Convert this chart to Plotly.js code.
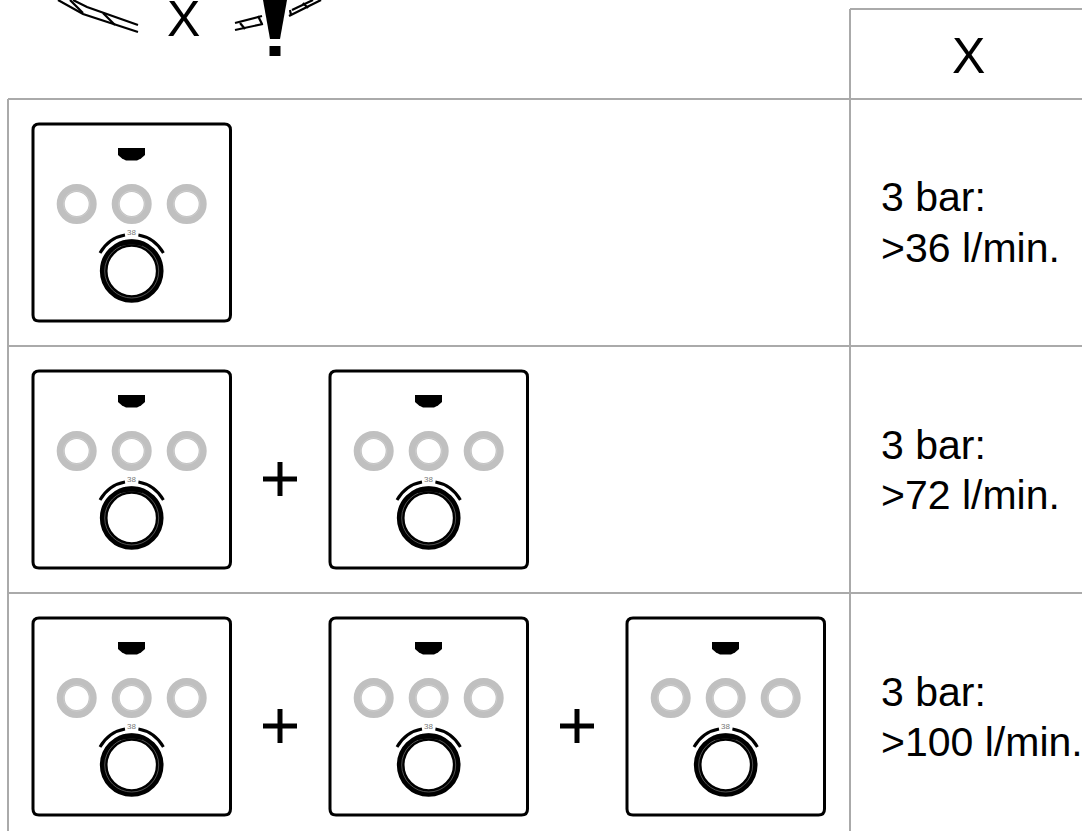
<!DOCTYPE html>
<html>
<head>
<meta charset="utf-8">
<script src="https://cdn.plot.ly/plotly-3.0.1.min.js"></script>
<style>html,body{margin:0;padding:0;background:#fff;overflow:hidden}</style>
</head>
<body>
<div id="chart" style="width:1082px;height:831px"></div>
<script>
// Table content
const headerLabel = "X";
const pressureLabel = "3 bar:";
const flowLabels = [">36 l/min.", ">72 l/min.", ">100 l/min."];
const panelCounts = [1, 2, 3];
const dialLabel = "38";

// Table layout
const rowTops = [124, 371, 618];
const colLefts = [33, 330, 627];
const pressureY = [197, 444.5, 691.5];
const flowY = [247.5, 494.5, 741.5];
const gridX = [[8,1082],[8,1082],[8,1082],[850,1082],[8,8],[850,850]];
const gridY = [[99,99],[346,346],[593,593],[9,9],[99,831],[9,831]];

// Clipped warning graphic at the top edge
const strokeX = [[58,83,138],[73,87,138],[70,83],[103,115],[235,262],[235,263],[240,245],[258,262],[289,321],[292,313],[290,291],[303,308]];
const strokeY = [[0,14,32],[0,7,25],[0,13],[13,25],[23,16],[30,24],[23,29],[16,24],[16,0],[10,0],[10,15],[3,8]];

const GRID = "#aaaaaa", INK = "#000000", RING = "#c0c0c0";
const shapes = [], annotations = [], traces = [];

gridX.forEach((xs, i) => traces.push({
  x: xs, y: gridY[i], mode: "lines", type: "scatter", hoverinfo: "skip",
  line: {color: GRID, width: 2}
}));
strokeX.forEach((xs, i) => traces.push({
  x: xs, y: strokeY[i], mode: "lines", type: "scatter", hoverinfo: "skip",
  line: {color: INK, width: 2.2}
}));

// Exclamation mark
shapes.push({type:"path", path:"M263,0 L287,0 L280,39 L270,39 Z", fillcolor:INK, line:{width:0}});
shapes.push({type:"rect", x0:269.5, x1:280.5, y0:46, y1:56, fillcolor:INK, line:{width:0}});

function circle(cx, cy, r, color, w) {
  shapes.push({type:"circle", x0:cx-r, x1:cx+r, y0:cy-r, y1:cy+r,
    fillcolor:"rgba(0,0,0,0)", line:{color:color, width:w}});
}
function panel(X, Y) {
  const p = (dx, dy) => (X+dx) + "," + (Y+dy);
  const W = 197.5, H = 197, R = 6;
  shapes.push({type:"path", line:{color:INK, width:3}, fillcolor:"#ffffff",
    path:"M"+p(R,0)+" L"+p(W-R,0)+" Q"+p(W,0)+" "+p(W,R)+" L"+p(W,H-R)+" Q"+p(W,H)+" "+p(W-R,H)+
         " L"+p(R,H)+" Q"+p(0,H)+" "+p(0,H-R)+" L"+p(0,R)+" Q"+p(0,0)+" "+p(R,0)+" Z"});
  // logo
  shapes.push({type:"path", fillcolor:INK, line:{width:0},
    path:"M"+p(85,24)+" L"+p(112,24)+" L"+p(112,31)+" L"+p(108,34.5)+" L"+p(104,36.5)+" L"+p(93,36.5)+" L"+p(89,34.5)+" L"+p(85,31)+" Z"});
  // buttons
  [43.7, 98.7, 153.7].forEach(cx => {
    circle(X+cx, Y+80, 16, RING, 8);
    circle(X+cx, Y+80, 13.2, "#d4d4d4", 0.6);
  });
  // dial
  circle(X+98.7, Y+147, 28, INK, 7.7);
  circle(X+98.7, Y+147, 27, "#666666", 0.8);
  shapes.push({type:"path", fillcolor:INK, line:{width:0},
    path:"M"+p(88,117)+" Q"+p(98.7,114)+" "+p(109,117)+" L"+p(109,122)+" Q"+p(98.7,119)+" "+p(88,122)+" Z"});
  // arcs
  shapes.push({type:"path", line:{color:INK,width:3}, path:"M"+p(67,129)+" Q"+p(75.5,114)+" "+p(92,111)});
  shapes.push({type:"path", line:{color:INK,width:3}, path:"M"+p(130.4,129)+" Q"+p(121.9,114)+" "+p(105.4,111)});
  annotations.push({x:X+98.7, y:Y+108, text:dialLabel, showarrow:false,
    font:{family:"Liberation Sans", size:8, color:"#777777"}, xanchor:"center", yanchor:"middle"});
}
function plus(cx, cy) {
  shapes.push({type:"rect", x0:cx-17, x1:cx+17, y0:cy-2.5, y1:cy+2.5, fillcolor:INK, line:{width:0}});
  shapes.push({type:"rect", x0:cx-2.5, x1:cx+2.5, y0:cy-17, y1:cy+17, fillcolor:INK, line:{width:0}});
}

panelCounts.forEach((n, r) => {
  for (let c = 0; c < n; c++) {
    panel(colLefts[c], rowTops[r]);
    if (c > 0) plus(colLefts[c] - 50, rowTops[r] + 108);
  }
  annotations.push({x:879, y:pressureY[r], text:pressureLabel, showarrow:false, xanchor:"left", yanchor:"middle",
    font:{family:"Liberation Sans", size:41, color:INK}});
  annotations.push({x:879, y:flowY[r], text:flowLabels[r], showarrow:false, xanchor:"left", yanchor:"middle",
    font:{family:"Liberation Sans", size:41, color:INK}});
});

[[183,19],[968,56]].forEach(pos => annotations.push({x:pos[0], y:pos[1], text:headerLabel, showarrow:false,
  xanchor:"center", yanchor:"middle", font:{family:"Liberation Sans", size:50, color:INK}}));

Plotly.newPlot("chart", traces, {
  width:1082, height:831, margin:{l:0,r:0,t:0,b:0}, showlegend:false,
  paper_bgcolor:"#ffffff", plot_bgcolor:"#ffffff",
  xaxis:{range:[0,1082], visible:false, fixedrange:true},
  yaxis:{range:[831,0], visible:false, fixedrange:true},
  shapes:shapes, annotations:annotations
}, {displayModeBar:false, staticPlot:true});
</script>
</body>
</html>
